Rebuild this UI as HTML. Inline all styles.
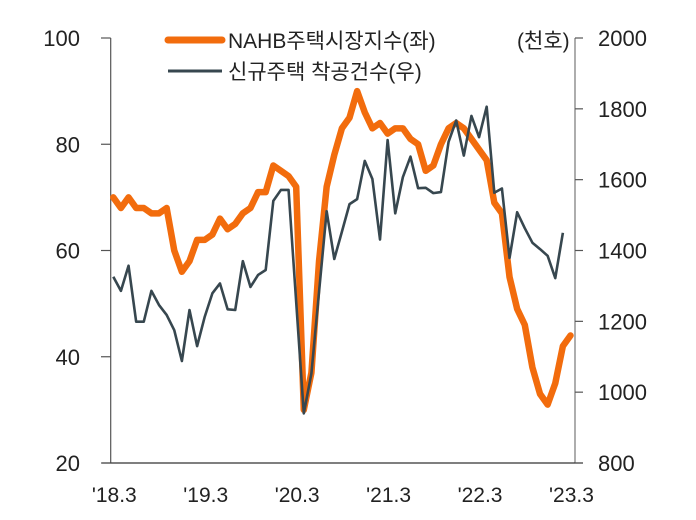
<!DOCTYPE html>
<html><head><meta charset="utf-8"><style>
body{margin:0;background:#fff}
svg text{font-family:"Liberation Sans","Noto Sans CJK KR",sans-serif;fill:#222}
</style></head><body>
<svg id="chart" width="696" height="515" viewBox="0 0 696 515">
<g id="axes"></g>
<g id="series"></g>
<g>
<line x1="168" y1="40" x2="222" y2="40" stroke="#f26c0d" stroke-width="7" stroke-linecap="round"/>
<text x="228" y="48" font-size="21">NAHB주택시장지수(좌)</text>
<line x1="168" y1="71" x2="222" y2="71" stroke="#37474f" stroke-width="3"/>
<text x="228" y="79" font-size="21">신규주택 착공건수(우)</text>
</g>
<text x="517" y="48" font-size="21">(천호)</text>
</svg>
<script>
const xLabels=["'18.3","'19.3","'20.3","'21.3","'22.3","'23.3"];
const leftTicks=[20,40,60,80,100];
const rightTicks=[800,1000,1200,1400,1600,1800,2000];
const nahb=[70,68,70,68,68,67,67,68,60,56,58,62,62,63,66,64,65,67,68,71,71,76,75,74,72,30,37,58,72,78,83,85,90,86,83,84,82,83,83,81,80,75,76,80,83,84,83,81,79,77,69,67,55,49,46,38,33,31,35,42,44];
const starts=[1326,1286,1357,1199,1199,1286,1246,1218,1175,1088,1232,1130,1213,1279,1307,1234,1232,1370,1297,1331,1345,1540,1571,1571,1255,940,1053,1283,1511,1376,1453,1531,1545,1653,1602,1431,1712,1505,1607,1665,1576,1577,1562,1565,1707,1767,1668,1780,1720,1806,1563,1575,1379,1508,1463,1422,1404,1385,1322,1450];
const NS="http://www.w3.org/2000/svg";
const X0=110.7,X1=575,Y0=38,Y1=463;
const xs=i=>113.3+i*7.62;
const yl=v=>Y1-(v-20)/80*(Y1-Y0);
const yr=v=>Y1-(v-800)/1200*(Y1-Y0);
const axes=document.getElementById('axes'),ser=document.getElementById('series');
function mk(tag,attrs,parent,txt){const e=document.createElementNS(NS,tag);for(const k in attrs)e.setAttribute(k,attrs[k]);if(txt!==undefined)e.textContent=txt;parent.appendChild(e);return e;}
let e;
e=mk('line',{x1:X0,y1:Y0,x2:X0,y2:Y1,stroke:'#555','stroke-width':1.2},axes);


e=mk('line',{x1:X1,y1:Y0,x2:X1,y2:Y1,stroke:'#777','stroke-width':1.2},axes);


e=mk('line',{x1:102,y1:Y1,x2:583,y2:Y1,stroke:'#333','stroke-width':1.2},axes);


leftTicks.forEach(v=>{const y=yl(v);
e=mk('line',{x1:101,y1:y,x2:X0,y2:y,stroke:'#555','stroke-width':1.2},axes);


e=mk('text',{x:80,y:y+8,'font-size':22,'text-anchor':'end'},axes,String(v));

});
rightTicks.forEach(v=>{const y=yr(v);
e=mk('line',{x1:X1,y1:y,x2:583,y2:y,stroke:'#555','stroke-width':1.2},axes);


e=mk('text',{x:598,y:y+8,'font-size':22},axes,String(v));

});
xLabels.forEach((l,i)=>{
e=mk('text',{x:xs(i*12)+1,y:502,'font-size':21,'text-anchor':'middle'},axes,l);

});
e=mk('polyline',{points:starts.map((v,i)=>xs(i)+','+yr(v)).join(' '),fill:'none',stroke:'#37474f','stroke-width':2.6,'stroke-linejoin':'round'},ser);


e=mk('polyline',{points:nahb.map((v,i)=>xs(i)+','+yl(v)).join(' '),fill:'none',stroke:'#f26c0d','stroke-width':6.5,'stroke-linejoin':'round','stroke-linecap':'round'},ser);


ser.appendChild(ser.firstChild);
</script>
</body></html>
